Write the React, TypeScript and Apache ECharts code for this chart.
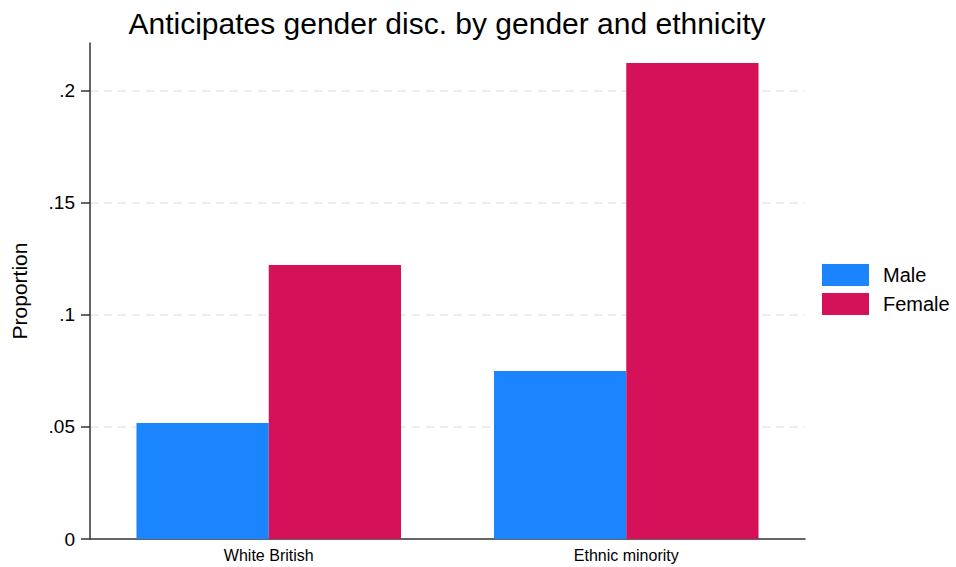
import React, { useEffect, useRef } from "react";
import * as echarts from "echarts";

const categories = ["White British", "Ethnic minority"];
const maleValues = [0.0518, 0.075];
const femaleValues = [0.1223, 0.2125];
const yTicks = [0, 0.05, 0.1, 0.15, 0.2];
const seriesNames = ["Male", "Female"];

const fmt = (v: number) => (v === 0 ? "0" : String(+v.toFixed(4)).replace(/^0/, ""));

export default function App() {
  const ref = useRef<HTMLDivElement>(null);
  useEffect(() => {
    if (!ref.current) return;
    const chart = echarts.init(ref.current, undefined, { renderer: "svg" });
    const font = "Liberation Sans, Arial, sans-serif";
    chart.setOption({
      animation: false,
      textStyle: { fontFamily: font },
      title: {
        text: "Anticipates gender disc. by gender and ethnicity",
        left: 447,
        textAlign: "center",
        top: 8,
        padding: 0,
        textStyle: { fontSize: 30, fontWeight: "normal", color: "#000", fontFamily: font },
      },
      legend: {
        orient: "vertical",
        left: 822,
        top: 264,
        padding: 0,
        itemWidth: 47,
        itemHeight: 22,
        itemGap: 7,
        icon: "rect",
        textStyle: { fontSize: 20, color: "#000", fontFamily: font, padding: [0, 0, 0, 9] },
        data: seriesNames,
      },
      grid: { left: 90, right: 151, top: 43, bottom: 28, containLabel: false },
      xAxis: {
        type: "category",
        data: categories,
        axisTick: { show: false },
        axisLine: { lineStyle: { color: "#333", width: 1.5 } },
        axisLabel: { fontSize: 16, color: "#000", margin: 8, fontFamily: font },
      },
      yAxis: {
        type: "value",
        min: 0,
        max: 0.2214,
        interval: 0.05,
        name: "Proportion",
        nameLocation: "middle",
        nameGap: 60,
        nameTextStyle: { fontSize: 21, color: "#000", fontFamily: font },
        axisLine: { show: true, lineStyle: { color: "#333", width: 1.5 } },
        axisTick: { show: true, length: 9, customValues: yTicks, lineStyle: { color: "#333", width: 1.5 } },
        axisLabel: {
          fontSize: 19,
          color: "#000",
          margin: 15,
          customValues: yTicks,
          formatter: (v: number) => fmt(v),
          fontFamily: font,
        },
        splitLine: {
          show: true,
          showMinLine: false,
          showMaxLine: true,
          lineStyle: { color: "#e8e8e8", type: [8, 6], width: 1.5 },
        },
      },
      series: [
        {
          name: seriesNames[0],
          type: "bar",
          data: maleValues,
          itemStyle: { color: "#1a85ff" },
          barGap: "0%",
          barCategoryGap: "26%",
        },
        {
          name: seriesNames[1],
          type: "bar",
          data: femaleValues,
          itemStyle: { color: "#d41159" },
          barGap: "0%",
          barCategoryGap: "26%",
        },
      ],
    });
    return () => chart.dispose();
  }, []);
  return (
    <div
      ref={ref}
      style={{ position: "absolute", left: 0, top: 0, width: 956, height: 567, background: "#fff" }}
    />
  );
}
